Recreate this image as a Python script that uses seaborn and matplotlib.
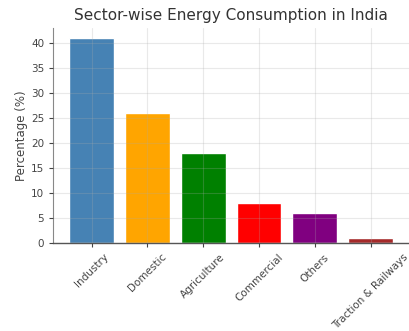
import matplotlib
matplotlib.use("Agg")
import matplotlib.pyplot as plt
import seaborn as sns
import pandas as pd

sectors = ["Industry", "Domestic", "Agriculture", "Commercial", "Others", "Traction & Railways"]
percentages = [41, 26, 18, 8, 6, 1]
colors = ["#4682B4", "#FFA500", "#008000", "#FF0000", "#800080", "#A52A2A"]

sns.set_style("white")
plt.rcParams['font.family'] = ['DejaVu Sans']

df = pd.DataFrame({"Sector": sectors, "Percentage": percentages})

fig = plt.figure(figsize=(4.09, 3.31), dpi=100)
ax = fig.add_axes([0.13, 0.266, 0.87, 0.649])
sns.barplot(data=df, x="Sector", y="Percentage", hue="Sector", palette=colors,
            legend=False, ax=ax, width=0.8, saturation=1)
ax.set_xlim(-0.69, 5.69)
ax.set_ylim(0, 43.05)
ax.set_yticks([0, 5, 10, 15, 20, 25, 30, 35, 40])
ax.grid(True, color="#aaaaaa", alpha=0.25, linewidth=0.8)
ax.set_axisbelow(False)
ax.set_title("Sector-wise Energy Consumption in India", fontsize=11, color="#333333", pad=6)
ax.set_xlabel("")
ax.set_ylabel("Percentage (%)", fontsize=8.5, color="#444444", labelpad=2)
ax.tick_params(axis="both", labelsize=7.5, colors="#444444", length=3, width=0.8, left=True, bottom=True)
plt.setp(ax.get_xticklabels(), rotation=45, ha="center")
for s in ["top", "right"]:
    ax.spines[s].set_visible(False)
ax.spines["left"].set_color("#888888")
ax.spines["bottom"].set_color("#555555")
ax.spines["left"].set_linewidth(0.8)
ax.spines["bottom"].set_linewidth(1.0)

fig.savefig("out.png", dpi=100)
